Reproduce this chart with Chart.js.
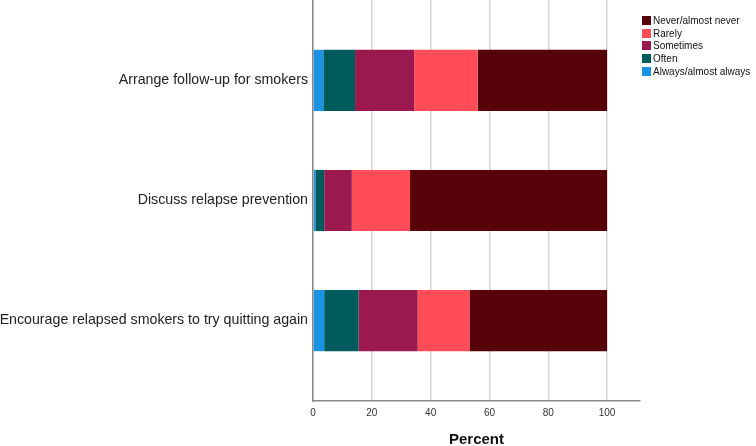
<!DOCTYPE html>
<html>
<head>
<meta charset="utf-8">
<script src="https://cdn.jsdelivr.net/npm/chart.js@4/dist/chart.umd.min.js"></script>
<style>
  html, body { margin: 0; padding: 0; background: #fff; }
  #wrap { position: relative; width: 756px; height: 446px; }
  #legend { position: absolute; left: 642px; top: 14px; font: 10px "Liberation Sans", Arial, sans-serif; color: #111; }
  #legend div { display: flex; align-items: center; height: 12.7px; white-space: nowrap; }
  #legend span.box { display: inline-block; width: 9px; height: 9px; margin-right: 2px; }
</style>
</head>
<body>
<div id="wrap">
  <canvas id="chart" width="756" height="446"></canvas>
  <div id="legend"></div>
</div>
<script>
// Catégories (de haut en bas)
const categories = [
    'Arrange follow-up for smokers',
    'Discuss relapse prevention',
    'Encourage relapsed smokers to try quitting again'
];

// Séries (pourcentages), de gauche à droite
const alwaysValues    = [3.5, 0.8, 3.8];
const oftenValues     = [10.8, 3.0, 11.7];
const sometimesValues = [20.1, 9.4, 20.1];
const rarelyValues    = [21.6, 19.8, 17.6];
const neverValues     = [44.0, 67.0, 46.8];

const seriesNames  = ['Always/almost always', 'Often', 'Sometimes', 'Rarely', 'Never/almost never'];
const seriesColors = ['#1a93e6', '#005c5c', '#9c1950', '#ff4c58', '#560409'];
const xTicks = [0, 20, 40, 60, 80, 100];

const seriesValues = [alwaysValues, oftenValues, sometimesValues, rarelyValues, neverValues];

const datasets = seriesNames.map((name, i) => ({
    label: name,
    data: seriesValues[i].map((v, j) => ({ x: v, y: j })),
    backgroundColor: seriesColors[i],
    borderWidth: 0,
    barPercentage: 0.51,
    categoryPercentage: 1
}));

const ctx = document.getElementById('chart').getContext('2d');
new Chart(ctx, {
    type: 'bar',
    data: { datasets: datasets },
    options: {
        indexAxis: 'y',
        responsive: false,
        animation: false,
        layout: { padding: { top: 0, right: 116, bottom: 0, left: 0 } },
        plugins: {
            legend: { display: false },
            tooltip: { enabled: false }
        },
        scales: {
            x: {
                type: 'linear',
                stacked: true,
                min: 0,
                max: 111.2,
                afterBuildTicks: (scale) => {
                    scale.ticks = xTicks.map(v => ({ value: v }));
                },
                afterFit: (scale) => { scale.height = 45; },
                ticks: {
                    color: '#333',
                    font: { family: '"Liberation Sans", Arial, sans-serif', size: 10 },
                    padding: 6
                },
                grid: { color: '#d4d4d4', lineWidth: 1.5, drawTicks: false },
                border: { display: true, color: '#888', width: 1.5 },
                title: {
                    display: true,
                    text: 'Percent',
                    color: '#111',
                    font: { family: '"Liberation Sans", Arial, sans-serif', size: 15, weight: 'bold' },
                    padding: { top: 4, bottom: -3 }
                }
            },
            y: {
                type: 'linear',
                stacked: true,
                reverse: true,
                offset: false,
                min: -0.67,
                max: 2.67,
                afterBuildTicks: (scale) => {
                    scale.ticks = categories.map((c, i) => ({ value: i }));
                },
                afterFit: (scale) => {
                    scale.width = 313;
                    scale.paddingTop = 0;
                    scale.paddingBottom = 0;
                },
                ticks: {
                    color: '#222',
                    font: { family: '"Liberation Sans", Arial, sans-serif', size: 14.2 },
                    padding: 5,
                    callback: (v) => categories[v]
                },
                grid: { display: false, drawTicks: false, offset: false },
                border: { display: true, color: '#888', width: 1.5 }
            }
        }
    }
});

// Légende HTML (ordre inversé comme dans l'original)
const legendEl = document.getElementById('legend');
seriesNames.slice().reverse().forEach((name, k) => {
    const i = seriesNames.length - 1 - k;
    const row = document.createElement('div');
    row.innerHTML = `<span class="box" style="background:${seriesColors[i]}"></span>${name}`;
    legendEl.appendChild(row);
});
</script>
</body>
</html>
